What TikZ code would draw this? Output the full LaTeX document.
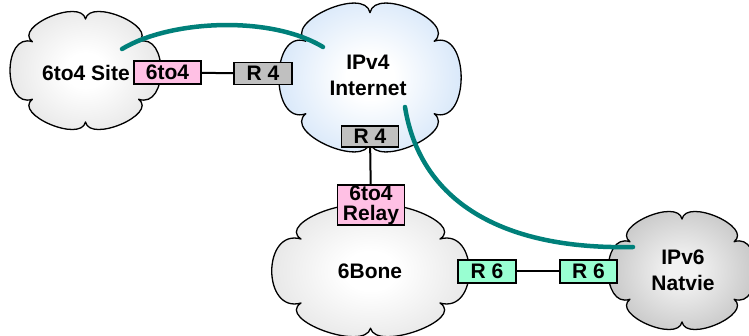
\documentclass[tikz,border=0pt]{standalone}
\usepackage{fontspec}
\setmainfont{Liberation Sans}

\definecolor{pinkbox}{RGB}{255,192,228}
\definecolor{graybox}{RGB}{192,192,192}
\definecolor{greenbox}{RGB}{153,255,210}
\definecolor{tealline}{RGB}{0,128,122}
\definecolor{puffgray}{RGB}{200,200,200}
\definecolor{puffdark}{RGB}{148,148,148}
\definecolor{puffblue}{RGB}{165,201,242}

% soft radial fills for the clouds
\pgfdeclareradialshading{greypuff}{\pgfpoint{0bp}{0bp}}{color(0bp)=(white); color(6bp)=(white); color(46bp)=(puffgray); color(80bp)=(puffgray)}
\pgfdeclareradialshading{darkpuff}{\pgfpoint{0bp}{0bp}}{color(0bp)=(white!95!black); color(4bp)=(white!95!black); color(46bp)=(puffdark); color(80bp)=(puffdark)}
\pgfdeclareradialshading{bluepuff}{\pgfpoint{0bp}{0bp}}{color(0bp)=(white); color(6bp)=(white); color(46bp)=(puffblue); color(80bp)=(puffblue)}

% puff parameters: cusp radius, arm factor, arm turn, vertical correction
\def\puffr{0.86}
\def\puffq{0.45}
\def\puffk{0.33}
\def\pufff{1.04}

% six-puff cloud: centre (#1,#2), half width #3, half height #4, style #5
\newcommand{\puffcloud}[5]{%
  \draw[#5] ({#1+#3*\puffr*cos(90)}, {#2+#4*\pufff*\puffr*sin(90)})
    \foreach \a/\b [evaluate=\a as \m using (\a+\b)/2,
                    evaluate=\a as \s using \a-\b,
                    evaluate=\a as \dd using 2*\puffq*\puffr*sin((\a-\b)/2)]
      in {90/34, 34/-34, -34/-90, -90/-146, -146/-214, -214/-270} {
      .. controls ({#1+#3*(\puffr*cos(\a)+\dd*cos(\m+\puffk*\s))}, {#2+#4*\pufff*(\puffr*sin(\a)+\dd*sin(\m+\puffk*\s))})
         and ({#1+#3*(\puffr*cos(\b)+\dd*cos(\m-\puffk*\s))}, {#2+#4*\pufff*(\puffr*sin(\b)+\dd*sin(\m-\puffk*\s))})
      .. ({#1+#3*\puffr*cos(\b)}, {#2+#4*\pufff*\puffr*sin(\b)})
    } -- cycle;
}

\tikzset{
  cloudline/.style={line width=1.3pt, line join=round},
  lbl/.style={inner sep=0pt, align=center,
    font=\fontsize{21}{26}\selectfont\bfseries},
  rbox/.style={draw, line width=1.3pt, inner sep=0pt, minimum height=22pt,
    font=\fontsize{21}{20}\selectfont\bfseries, align=center},
  link/.style={line width=2pt},
  tunnel/.style={tealline, line width=4.5pt, line cap=round},
}

\begin{document}
\begin{tikzpicture}[x=1pt, y=-1pt]
\useasboundingbox (0,0) rectangle (749,336);

% clouds
\puffcloud{85.5}{70.5}{74.5}{57.5}{cloudline, shading=greypuff}
\puffcloud{370}{77.5}{90}{72.5}{cloudline, shading=bluepuff}
\puffcloud{370.5}{271}{97.5}{64}{cloudline, shading=greypuff}
\puffcloud{682}{270.5}{73}{57.5}{cloudline, shading=darkpuff}

% cloud labels
\node[lbl] (sitelbl) at (86,73) {6to4 Site};
\node[lbl] (v4lbl) at (368,75) {IPv4\\Internet};
\node[lbl] (bonelbl) at (370,271) {6Bone};
\node[lbl] (v6lbl) at (683,270) {IPv6\\Natvie};

% tunnel ends
\coordinate (siteend) at (122,49);
\coordinate (v4enda) at (323,47);
\coordinate (v4endb) at (405,107);
\coordinate (v6end) at (633,247);

\draw[tunnel] (siteend) .. controls (170,20) and (270,15) .. (v4enda);
\draw[tunnel] (v4endb) .. controls (420,200) and (500,250) .. (v6end);

% routers
\node[rbox, fill=pinkbox, minimum width=67pt, minimum height=23pt] (sitegw) at (167.5,72.5) {6to4};
\node[rbox, fill=graybox, minimum width=58pt] (rfoura) at (263,73.5) {R 4};
\node[rbox, fill=graybox, minimum width=57pt, minimum height=21pt] (rfourb) at (370,136.5) {R 4};
\node[rbox, fill=pinkbox, minimum width=67pt, minimum height=40pt] (relay) at (371,205) {6to4\\Relay};
\node[rbox, fill=greenbox, minimum width=58pt, minimum height=23pt] (rsixa) at (487,271.5) {R 6};
\node[rbox, fill=greenbox, minimum width=57pt, minimum height=23pt] (rsixb) at (588.5,271.5) {R 6};

% links
\draw[link] (sitegw) -- (rfoura);
\draw[link] (rfourb) -- (relay);
\draw[link] (rsixa) -- (rsixb);
\end{tikzpicture}
\end{document}
